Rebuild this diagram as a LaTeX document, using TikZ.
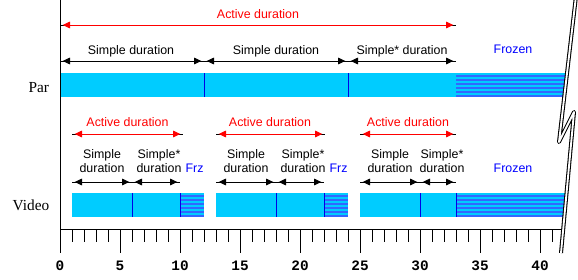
\documentclass[tikz,border=0pt]{standalone}
\usepackage{fontspec}
\setmainfont{Liberation Sans}
\newfontfamily\seriffam{Liberation Serif}
\newfontfamily\monofam{Liberation Mono}
\usetikzlibrary{arrows.meta}
\definecolor{barcyan}{RGB}{0,204,255}
\definecolor{stripeblue}{RGB}{51,102,255}
\definecolor{divblue}{RGB}{0,0,230}
\definecolor{frzblue}{RGB}{0,0,255}
\definecolor{actred}{RGB}{255,0,0}
\begin{document}
\begin{tikzpicture}[x=0.75pt,y=-0.75pt,
  lbl/.style={font=\fontsize{9.3}{10.5}\selectfont, inner sep=0pt, align=center, anchor=base},
  actlbl/.style={lbl, text=actred},
  frzlbl/.style={lbl, text=frzblue},
  rowlbl/.style={font=\seriffam\fontsize{11.5}{13}\selectfont, inner sep=0pt, anchor=base},
  numlbl/.style={font=\monofam\bfseries\fontsize{10.8}{12}\selectfont, inner sep=0pt, anchor=base},
  dur/.style={line width=0.75pt,
    {Triangle[length=5.5pt,width=5pt]}-{Triangle[length=5.5pt,width=5pt]},
    shorten <=2pt, shorten >=2pt,
    preaction={draw,-,shorten <=0pt,shorten >=0pt}},
  bar/.style={fill=barcyan, draw=none},
  stripe/.style={stripeblue, line width=1.5pt},
  divider/.style={divblue, line width=0.75pt},
  tick/.style={black, line width=0.75pt},
  breakouter/.style={black, line width=3pt, line join=round},
  breakinner/.style={white, line width=1.4pt, line join=round}
]
\useasboundingbox (0,0) rectangle (578,279);
\fill[white] (0,0) rectangle (578,279);

% ---------- bars (clipped at the break) ----------
\begin{scope}
\clip (0,0) -- (575,0) -- (559,142) -- (574,112) -- (561,253) -- (561,279) -- (0,279) -- cycle;
% Par bar
\fill[bar] (60,73) rectangle (578,97);
\foreach \i in {0,...,5} \draw[stripe] (456,{76+4*\i}) -- (578,{76+4*\i});
\draw[divider] (204,73) -- (204,97);
\draw[divider] (348,73) -- (348,97);
% Video bars
\fill[bar] (72,193) rectangle (204,217);
\fill[bar] (216,193) rectangle (348,217);
\fill[bar] (360,193) rectangle (578,217);
\foreach \i in {0,...,5} {
  \draw[stripe] (180,{196+4*\i}) -- (204,{196+4*\i});
  \draw[stripe] (324,{196+4*\i}) -- (348,{196+4*\i});
  \draw[stripe] (456,{196+4*\i}) -- (578,{196+4*\i});
}
\foreach \x in {132,180,276,324,420,456} \draw[divider] (\x,193) -- (\x,217);
% time axis
\coordinate (ax0) at (60,229);
\coordinate (ax1) at (578,229);
\draw[tick] (ax0) -- (ax1);
\foreach \t in {1,...,41} {
  \pgfmathtruncatemacro{\m}{mod(\t,5)}
  \ifnum\m=0
    \draw[tick] ({60+12*\t},229) -- ({60+12*\t},253);
  \else
    \draw[tick] ({60+12*\t},229) -- ({60+12*\t},241.5);
  \fi
}
\end{scope}

% vertical axis
\coordinate (vtop) at (60,0);
\coordinate (vbot) at (60,253);
\draw[tick] (vtop) -- (vbot);

% axis numbers
\foreach \n in {0,5,...,40}
  \node[numlbl] (num\n) at ({60+12*\n},270.7) {\n};

% row labels
\node[rowlbl] (par) at (38.8,92.7) {Par};
\node[rowlbl] (video) at (31,210) {Video};

% ---------- Par durations ----------
\coordinate (pa0) at (60,25);
\coordinate (pa1) at (456,25);
\draw[dur, actred] (pa0) -- (pa1);
\node[actlbl] (pact) at (258,18) {Active duration};

\coordinate (ps0) at (60,61);
\coordinate (ps1) at (204,61);
\coordinate (ps2) at (348,61);
\coordinate (ps3) at (456,61);
\draw[dur] (ps0) -- (ps1);
\draw[dur] (ps1) -- (ps2);
\draw[dur] (ps2) -- (ps3);
\node[lbl] (psl1) at (131,54) {Simple duration};
\node[lbl] (psl2) at (276,54) {Simple duration};
\node[lbl] (psl3) at (402,54) {Simple* duration};
\node[frzlbl] (pfrz) at (513,53) {Frozen};

% ---------- Video durations ----------
\coordinate (va0) at (72,134);
\coordinate (va1) at (183,134);
\coordinate (va2) at (216,134);
\coordinate (va3) at (325,134);
\coordinate (va4) at (360,134);
\coordinate (va5) at (456,134);
\draw[dur, actred] (va0) -- (va1);
\draw[dur, actred] (va2) -- (va3);
\draw[dur, actred] (va4) -- (va5);
\node[actlbl] (vactl1) at (127.5,126) {Active duration};
\node[actlbl] (vactl2) at (270,126) {Active duration};
\node[actlbl] (vactl3) at (408,126) {Active duration};

\coordinate (vs0) at (72,182);
\coordinate (vs1) at (132,182);
\coordinate (vs2) at (180,182);
\coordinate (vs3) at (216,182);
\coordinate (vs4) at (276,182);
\coordinate (vs5) at (324,182);
\coordinate (vs6) at (360,182);
\coordinate (vs7) at (420,182);
\coordinate (vs8) at (456,182);
\draw[dur] (vs0) -- (vs1);
\draw[dur] (vs1) -- (vs2);
\draw[dur] (vs3) -- (vs4);
\draw[dur] (vs4) -- (vs5);
\draw[dur] (vs6) -- (vs7);
\draw[dur] (vs7) -- (vs8);

\node[lbl] (vsl1) at (102,172) {Simple\\duration};
\node[lbl] (vsl2) at (159,172) {Simple*\\duration};
\node[frzlbl] (vfrz1) at (194.5,172) {Frz};
\node[lbl] (vsl3) at (246,172) {Simple\\duration};
\node[lbl] (vsl4) at (303,172) {Simple*\\duration};
\node[frzlbl] (vfrz2) at (338.5,172) {Frz};
\node[lbl] (vsl5) at (390,172) {Simple\\duration};
\node[lbl] (vsl6) at (442,172) {Simple*\\duration};
\node[frzlbl] (vfrz3) at (513,172) {Frozen};

% ---------- break mark ----------
\coordinate (b0) at (576,-4);
\coordinate (b1) at (559,142);
\coordinate (b2) at (574,112);
\coordinate (b3) at (561,253);
\draw[breakouter] (b0) -- (b1) -- (b2) -- (b3);
\draw[breakinner] (b0) -- (b1) -- (b2) -- (b3);
\end{tikzpicture}
\end{document}
